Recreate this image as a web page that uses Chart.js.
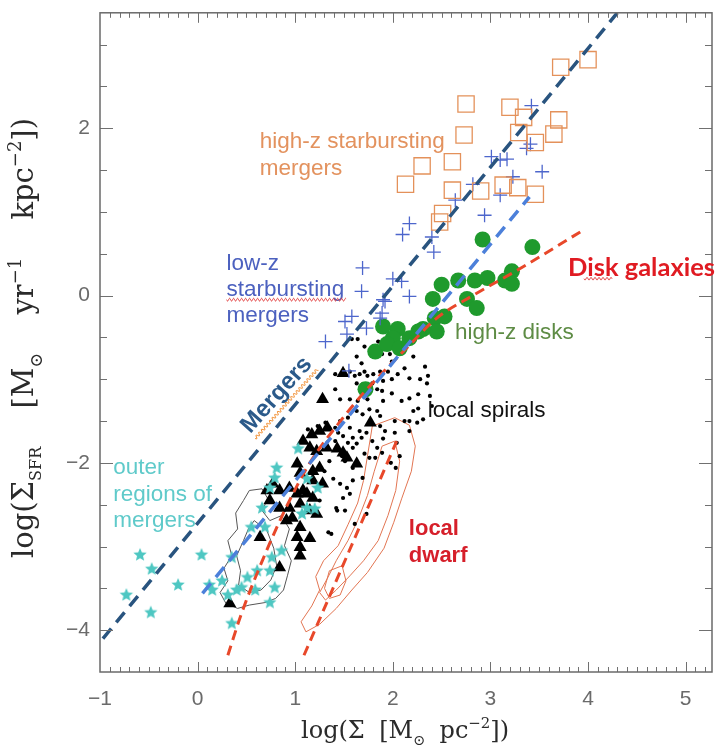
<!DOCTYPE html>
<html><head><meta charset="utf-8">
<script src="https://cdn.jsdelivr.net/npm/chart.js@4.4.1/dist/chart.umd.min.js"></script>
<style>html,body{margin:0;padding:0;background:#fff;}#wrap{width:727px;height:747px;}</style>
</head><body><div id="wrap"><canvas id="c" width="727" height="747"></canvas></div>
<script>
// ---------------- data (log Σgas, log ΣSFR) ----------------
const X_TICKS = [-1, 0, 1, 2, 3, 4, 5];
const Y_TICKS = [-4, -2, 0, 2];

const highZMergers = [[4.00,2.82],[3.72,2.73],[2.75,2.29],[3.20,2.25],[3.34,2.13],[3.70,2.10],[2.73,1.92],[3.29,1.95],[3.46,1.83],[3.65,1.93],[2.30,1.55],[2.61,1.60],[2.13,1.33],[2.61,1.26],[2.90,1.25],[3.13,1.32],[3.28,1.29],[3.46,1.21],[2.51,0.98],[2.48,0.88]];

const lowZMergers = [[3.42,2.27],[3.41,1.81],[3.37,1.76],[3.01,1.66],[3.10,1.62],[3.17,1.63],[3.23,1.42],[3.53,1.48],[2.82,1.33],[3.10,1.20],[2.64,1.14],[2.94,0.96],[2.17,0.86],[2.10,0.73],[2.40,0.70],[2.42,0.52],[1.69,0.33],[2.00,0.20],[2.09,0.17],[2.17,-0.01],[1.90,-0.05],[1.68,0.05],[1.58,-0.25],[1.51,-0.31],[1.89,-0.21],[1.73,-0.39],[1.31,-0.55],[1.55,-0.90],[1.53,-0.46],[1.92,-0.07],[1.87,-0.27]];

const highZDisks = [[2.92,0.67],[3.43,0.58],[2.50,0.13],[2.67,0.18],[2.84,0.18],[2.97,0.21],[3.15,0.18],[3.22,0.29],[3.22,0.14],[2.41,-0.04],[2.76,-0.04],[2.86,-0.15],[2.43,-0.27],[2.53,-0.25],[2.45,-0.43],[2.31,-0.40],[2.05,-0.40],[2.00,-0.51],[2.17,-0.51],[1.90,-0.37],[1.82,-0.67],[1.72,-1.12],[1.94,-0.58],[2.07,-0.63],[2.26,-0.43]];

const localSpirals = [[1.64,-0.52],[1.63,-0.73],[1.68,-0.81],[1.89,-0.70],[1.97,-0.70],[2.04,-0.67],[2.21,-0.73],[2.33,-0.85],[2.28,-1.00],[2.36,-0.96],[2.35,-1.05],[1.41,-0.94],[1.41,-1.12],[1.56,-0.91],[1.61,-0.96],[1.66,-0.94],[1.71,-0.91],[1.74,-0.96],[1.80,-0.94],[1.87,-0.91],[1.95,-0.91],[2.05,-0.94],[1.63,-1.05],[1.69,-1.06],[1.79,-1.05],[1.90,-1.02],[1.99,-1.00],[1.84,-1.12],[1.89,-1.14],[1.99,-1.17],[1.56,-1.24],[1.46,-1.24],[1.64,-1.26],[1.74,-1.24],[1.90,-1.26],[2.09,-1.26],[2.17,-1.23],[2.26,-1.18],[2.26,-1.35],[2.12,-1.50],[2.25,-1.52],[2.02,-1.50],[1.84,-1.38],[1.87,-1.44],[1.76,-1.36],[1.69,-1.42],[1.63,-1.38],[1.54,-1.46],[1.46,-1.50],[1.41,-1.58],[1.56,-1.58],[1.66,-1.62],[1.73,-1.64],[1.87,-1.56],[1.92,-1.62],[2.02,-1.64],[1.49,-1.68],[1.59,-1.70],[1.68,-1.70],[1.54,-1.76],[1.63,-1.77],[1.79,-1.74],[1.90,-1.71],[2.04,-1.76],[1.84,-1.82],[1.89,-1.88],[2.07,-1.92],[1.71,-1.89],[1.76,-1.94],[1.82,-1.94],[1.98,-2.00],[2.03,-2.06],[1.35,-1.58],[1.44,-1.64],[1.59,-1.82],[1.51,-1.98],[1.59,-2.06],[1.46,-2.25],[1.53,-2.30],[1.59,-2.21],[1.69,-2.18],[1.49,-2.42],[1.56,-2.37],[1.43,-2.57],[1.73,-2.61],[1.37,-2.85],[2.17,-1.50],[2.21,-1.38],[2.31,-1.48],[2.17,-0.99],[1.42,-2.54],[1.34,-2.83],[1.58,-0.52],[1.23,-1.56],[1.31,-1.52],[1.13,-1.60],[1.41,-1.74],[1.48,-1.92],[1.35,-1.98],[1.30,-2.10],[1.39,-2.19],[1.25,-2.45],[1.51,-2.57],[1.61,-2.73],[1.71,-0.61],[1.85,-0.55],[1.99,-0.79],[2.12,-0.87],[2.38,-1.20],[2.40,-1.32],[2.17,-1.62]];

const nearbyGalaxies = [[1.49,-0.93],[1.28,-1.24],[1.77,-1.52],[1.17,-1.66],[1.25,-1.62],[1.33,-1.58],[1.08,-1.74],[1.15,-1.82],[1.22,-1.86],[1.32,-1.82],[1.43,-1.83],[1.49,-1.88],[1.53,-1.94],[1.63,-2.01],[1.02,-2.01],[1.05,-2.12],[1.18,-2.10],[1.25,-2.06],[1.18,-2.21],[1.28,-2.25],[0.77,-2.25],[0.84,-2.33],[0.94,-2.30],[1.02,-2.37],[1.08,-2.33],[1.12,-2.37],[1.18,-2.42],[0.71,-2.33],[0.74,-2.45],[0.84,-2.54],[0.94,-2.54],[1.05,-2.49],[1.15,-2.57],[1.22,-2.61],[0.91,-2.69],[0.97,-2.66],[1.05,-2.77],[0.64,-2.89],[1.02,-2.89],[1.15,-2.90],[1.05,-3.01],[1.05,-3.11],[0.84,-3.25],[0.33,-3.68]];

const outerRegions = [[-0.59,-3.10],[-0.47,-3.27],[0.04,-3.10],[-0.20,-3.46],[-0.73,-3.58],[-0.48,-3.79],[0.12,-3.46],[0.15,-3.52],[0.25,-3.41],[0.35,-3.13],[0.31,-3.58],[0.35,-3.92],[0.45,-3.49],[0.51,-3.37],[0.59,-3.52],[0.74,-3.67],[0.76,-3.13],[0.74,-3.29],[0.66,-2.54],[0.55,-2.77],[1.03,-1.83],[0.81,-2.06],[1.12,-2.19],[1.23,-2.30],[0.74,-2.30],[0.69,-2.77],[0.86,-3.05],[0.61,-3.29],[0.40,-3.52],[0.79,-3.49],[0.79,-2.18],[1.12,-2.54],[1.07,-2.61],[1.20,-2.55]];

// fitted relations (end points / knots)
const mergerRelation = [[-0.97,-4.10],[4.30,3.38]];
const mergerRelation2 = [[0.05,-3.56],[3.40,1.18]];
const diskRelation = [[0.31,-4.30],[0.45,-3.80],[0.67,-3.15],[0.90,-2.55],[1.15,-2.00],[1.45,-1.52],[1.72,-1.14],[2.14,-0.63],[2.45,-0.27],[2.82,0.00],[3.30,0.32],[3.92,0.76]];
const dwarfRelation = [[1.09,-4.30],[2.04,-1.74]];

// density contours
const spiralContourOuter = [[0.53,-2.33],[0.66,-2.31],[0.72,-2.43],[0.66,-2.57],[0.74,-2.69],[0.86,-2.63],[0.94,-2.79],[0.89,-2.99],[0.96,-3.17],[0.92,-3.35],[0.88,-3.52],[0.80,-3.62],[0.69,-3.67],[0.53,-3.70],[0.41,-3.74],[0.29,-3.68],[0.23,-3.55],[0.31,-3.41],[0.27,-3.26],[0.35,-3.11],[0.31,-2.93],[0.41,-2.79],[0.39,-2.60],[0.47,-2.45],[0.53,-2.33]];
const spiralContourInner = [[0.58,-2.69],[0.71,-2.81],[0.78,-3.02],[0.81,-3.23],[0.75,-3.40],[0.65,-3.52],[0.53,-3.55],[0.42,-3.46],[0.44,-3.29],[0.40,-3.11],[0.47,-2.93],[0.52,-2.79],[0.58,-2.69]];
const dwarfContourOuter = [[1.79,-1.56],[2.02,-1.46],[2.17,-1.55],[2.23,-1.80],[2.19,-2.10],[2.09,-2.43],[2.01,-2.71],[1.91,-3.02],[1.74,-3.31],[1.58,-3.52],[1.42,-3.74],[1.25,-3.93],[1.11,-4.02],[1.06,-3.90],[1.17,-3.71],[1.25,-3.52],[1.21,-3.36],[1.29,-3.17],[1.44,-2.99],[1.54,-2.74],[1.64,-2.48],[1.70,-2.21],[1.74,-1.92],[1.79,-1.56]];
const dwarfContourMid = [[1.89,-1.80],[2.02,-1.74],[2.07,-1.98],[2.03,-2.33],[1.95,-2.63],[1.85,-2.93],[1.70,-3.17],[1.56,-3.35],[1.42,-3.52],[1.31,-3.64],[1.25,-3.55],[1.33,-3.38],[1.42,-3.17],[1.54,-2.93],[1.64,-2.69],[1.74,-2.39],[1.81,-2.10],[1.89,-1.80]];
const dwarfContourInner = [[1.35,-3.29],[1.48,-3.23],[1.52,-3.41],[1.46,-3.58],[1.35,-3.62],[1.30,-3.50],[1.35,-3.29]];

// ---------------- helpers ----------------
const pts = a => a.map(([x, y]) => ({x, y}));

function starImage(color, r) {
  const s = Math.ceil(r * 2 + 2), c = document.createElement('canvas');
  c.width = s; c.height = s;
  const g = c.getContext('2d');
  g.fillStyle = color; g.beginPath();
  for (let i = 0; i < 10; i++) {
    const rr = i % 2 ? r * 0.45 : r, a = -Math.PI / 2 + i * Math.PI / 5;
    g.lineTo(s / 2 + rr * Math.cos(a), s / 2 + rr * Math.sin(a));
  }
  g.closePath(); g.fill();
  return c;
}

function wavy(ctx, x1, y1, x2, y2, color, amp, period) {
  const dx = x2 - x1, dy = y2 - y1, L = Math.hypot(dx, dy), ux = dx / L, uy = dy / L;
  ctx.save(); ctx.strokeStyle = color; ctx.lineWidth = 1; ctx.beginPath();
  for (let t = 0; t <= L; t += 0.5) {
    const o = amp * Math.sin(t / period * 2 * Math.PI);
    const px = x1 + ux * t - uy * o, py = y1 + uy * t + ux * o;
    t === 0 ? ctx.moveTo(px, py) : ctx.lineTo(px, py);
  }
  ctx.stroke(); ctx.restore();
}

// rich text (sub/superscripts), centered on (cx, cy) baseline, rotated
function richText(ctx, segs, cx, cy, angle, size, family, color, targetLen) {
  ctx.save(); ctx.translate(cx, cy); ctx.rotate(angle);
  ctx.fillStyle = color; ctx.textBaseline = 'alphabetic'; ctx.textAlign = 'left';
  const fontOf = s => `${(size * (s.s || 1)).toFixed(1)}px ${family}`;
  const w = segs.map(s => { if (s.gap) return 0; ctx.font = fontOf(s); return ctx.measureText(s.t).width; });
  const nat = w.reduce((a, b) => a + b, 0), ng = segs.filter(s => s.gap).length;
  const g = ng ? Math.max(size * 0.25, (targetLen - nat) / ng) : 0;
  let x = -(nat + g * ng) / 2;
  segs.forEach((s, i) => {
    if (s.gap) { x += g; return; }
    ctx.font = fontOf(s); ctx.fillText(s.t, x, (s.dy || 0) * size); x += w[i];
  });
  ctx.restore();
}

// annotation labels: anchor in data coordinates (left edge, middle of first line)
const SANS = '"Liberation Sans", Arial, sans-serif';
const labels = [
  {lines: ['high-z starbursting', 'mergers'], at: [0.636, 1.833], color: '#E3925E', font: `22.5px ${SANS}`, lh: 27},
  {lines: ['low-z', 'starbursting', 'mergers'], at: [0.297, 0.381], color: '#4C61BF', font: `22.5px ${SANS}`, lh: 26},
  {lines: ['outer', 'regions of', 'mergers'], at: [-0.864, -2.060], color: '#5FCACA', font: `22.5px ${SANS}`, lh: 26.5},
  {lines: ['high-z disks'], at: [2.636, -0.440], color: '#5E8C45', font: `22.5px ${SANS}`, lh: 26},
  {lines: ['local spirals'], at: [2.359, -1.381], color: '#111111', font: `22.5px ${SANS}`, lh: 26},
  {lines: ['local', 'dwarf'], at: [2.164, -2.786], color: '#D61F2A', font: `bold 22px ${SANS}`, lh: 27},
  {lines: ['Disk galaxies'], at: [3.795, 0.333], color: '#E01B22', font: 'bold 25.5px Lato, "Open Sans", sans-serif', lh: 26}
];

const decorPlugin = {
  id: 'decor',
  afterDatasetsDraw(chart) {
    const {ctx, chartArea: a, scales: {x, y}} = chart;
    ctx.save();
    // ticks (inward, all four sides)
    ctx.strokeStyle = '#707070'; ctx.lineWidth = 1;
    ctx.beginPath();
    for (let i = -9; i <= 52; i++) {
      const px = Math.round(x.getPixelForValue(i / 10)) + 0.5, L = i % 10 === 0 ? 10 : 5;
      ctx.moveTo(px, a.bottom); ctx.lineTo(px, a.bottom - L);
      ctx.moveTo(px, a.top); ctx.lineTo(px, a.top + L);
    }
    for (let i = -8; i <= 6; i++) {
      const v = i / 2, py = Math.round(y.getPixelForValue(v)) + 0.5, L = (v % 2 === 0) ? 13 : 7;
      ctx.moveTo(a.left, py); ctx.lineTo(a.left + L, py);
      ctx.moveTo(a.right, py); ctx.lineTo(a.right - L, py);
    }
    ctx.stroke();
    ctx.lineWidth = 1.5; ctx.strokeStyle = '#6a6a6a';
    ctx.strokeRect(a.left, a.top, a.right - a.left, a.bottom - a.top);

    // labels
    ctx.textBaseline = 'middle'; ctx.textAlign = 'left';
    labels.forEach(l => {
      ctx.font = l.font; ctx.fillStyle = l.color;
      const px = x.getPixelForValue(l.at[0]), py = y.getPixelForValue(l.at[1]);
      l.lines.forEach((t, i) => ctx.fillText(t, px, py + i * l.lh));
    });
    // wavy spell-check underlines
    const p = (vx, vy) => [x.getPixelForValue(vx), y.getPixelForValue(vy)];
    let [sx, sy] = p(0.297, 0.381);
    wavy(ctx, sx, sy + 26 + 10, sx + 120, sy + 26 + 10, '#E03A3A', 1.4, 4);
    [sx, sy] = p(3.795, 0.333);
    wavy(ctx, sx + 16, sy + 11, sx + 44, sy + 11, '#E03A3A', 1.4, 4);

    // rotated "Mergers"
    const [mx, my] = p(0.810, -1.190);
    const ang = -48 * Math.PI / 180;
    ctx.save(); ctx.translate(mx, my); ctx.rotate(ang);
    ctx.font = `bold 24px ${SANS}`; ctx.fillStyle = '#2B5A8A'; ctx.textAlign = 'center'; ctx.textBaseline = 'middle';
    ctx.fillText('Mergers', 0, 0);
    const mw = ctx.measureText('Mergers').width;
    ctx.restore();
    const c = Math.cos(ang), s = Math.sin(ang), off = 13;
    wavy(ctx, mx - c * mw / 2 - s * off, my - s * mw / 2 + c * off, mx + c * mw / 2 - s * off, my + s * mw / 2 + c * off, '#F08A2A', 1.5, 4);
    ctx.restore();
  },
  afterDraw(chart) {
    const {ctx} = chart;
    const SERIF = '"DejaVu Serif", "Liberation Serif", serif';
    richText(ctx, [
      {t: 'log(Σ'}, {t: 'SFR', s: 0.55, dy: 0.28}, {gap: 1}, {t: '[M'}, {t: '⊙', s: 0.6, dy: 0.3}, {gap: 1},
      {t: 'yr'}, {t: '−1', s: 0.62, dy: -0.42}, {gap: 1}, {t: 'kpc'}, {t: '−2', s: 0.62, dy: -0.42}, {t: '])'}
    ], 33, 338, -Math.PI / 2, 29, SERIF, '#2a2a2a', 440);
    richText(ctx, [
      {t: 'log(Σ'}, {gap: 1}, {t: '[M'}, {t: '⊙', s: 0.6, dy: 0.3}, {gap: 1}, {t: 'pc'}, {t: '−2', s: 0.62, dy: -0.42}, {t: '])'}
    ], 405, 738, 0, 24, SERIF, '#2a2a2a', 208);
  }
};

const lineDs = (label, data, color, width, dash, extra) => Object.assign({
  label, data: pts(data), showLine: true, borderColor: color, borderWidth: width, borderDash: dash,
  pointRadius: 0, fill: false, tension: 0
}, extra || {});

const chart = new Chart(document.getElementById('c'), {
  type: 'scatter',
  data: {
    datasets: [
      lineDs('Mergers', mergerRelation, '#29547F', 3.5, [13, 8]),
      lineDs('Mergers (low)', mergerRelation2, '#4C80DA', 3.5, [13, 8]),
      lineDs('Disk galaxies', diskRelation, '#E8482A', 3, [10, 6], {cubicInterpolationMode: 'monotone'}),
      lineDs('local dwarf', dwarfRelation, '#E8482A', 3, [10, 6]),
      {label: 'high-z starbursting mergers', data: pts(highZMergers), pointStyle: 'rect', pointRadius: 11.5,
       borderColor: '#E4915A', backgroundColor: 'rgba(0,0,0,0)', pointBorderWidth: 1.3},
      {label: 'low-z starbursting mergers', data: pts(lowZMergers), pointStyle: 'cross', pointRadius: 7,
       borderColor: '#4D66CC', pointBorderWidth: 1.3},
      {label: 'high-z disks', data: pts(highZDisks), pointStyle: 'circle', pointRadius: 8,
       backgroundColor: '#1F9A2D', borderColor: '#1F9A2D', pointBorderWidth: 0},
      {label: 'outer regions of mergers', data: pts(outerRegions), pointStyle: starImage('#4EC7C2', 7), pointRadius: 7},
      {label: 'nearby', data: pts(nearbyGalaxies), pointStyle: 'triangle', pointRadius: 7.5,
       backgroundColor: '#000', borderColor: '#000', pointBorderWidth: 0},
      {label: 'local spirals', data: pts(localSpirals), pointStyle: 'circle', pointRadius: 2.1,
       backgroundColor: '#000', borderColor: '#000', pointBorderWidth: 0},
      lineDs('spiral contour 1', spiralContourOuter, '#555555', 1, []),
      lineDs('spiral contour 2', spiralContourInner, '#555555', 1, []),
      lineDs('dwarf contour 1', dwarfContourOuter, '#E27552', 1, []),
      lineDs('dwarf contour 2', dwarfContourMid, '#E27552', 1, []),
      lineDs('dwarf contour 3', dwarfContourInner, '#E27552', 1, [])
    ]
  },
  options: {
    responsive: false, animation: false, devicePixelRatio: 1, events: [],
    layout: {padding: {left: 0, right: 15, top: 10, bottom: 0}},
    plugins: {legend: {display: false}, tooltip: {enabled: false}},
    scales: {
      x: {
        type: 'linear', min: -1, max: 5.27,
        afterBuildTicks: s => { s.ticks = X_TICKS.map(v => ({value: v})); },
        afterFit: s => { s.height = 75; s.paddingLeft = 0; s.paddingRight = 0; },
        ticks: {callback: v => String(v).replace('-', '\u2212'), color: '#6a6a6a', padding: 15,
                font: {family: 'Liberation Sans', size: 21}, maxRotation: 0, autoSkip: false},
        grid: {display: false, drawTicks: false}, border: {display: false}
      },
      y: {
        type: 'linear', min: -4.5, max: 3.38,
        afterBuildTicks: s => { s.ticks = Y_TICKS.map(v => ({value: v})); },
        afterFit: s => { s.width = 100; s.paddingTop = 0; s.paddingBottom = 0; },
        ticks: {callback: v => String(v).replace('-', '\u2212'), color: '#6a6a6a', padding: 10,
                font: {family: 'Liberation Sans', size: 21}, autoSkip: false},
        grid: {display: false, drawTicks: false}, border: {display: false}
      }
    }
  },
  plugins: [decorPlugin]
});
</script></body></html>
